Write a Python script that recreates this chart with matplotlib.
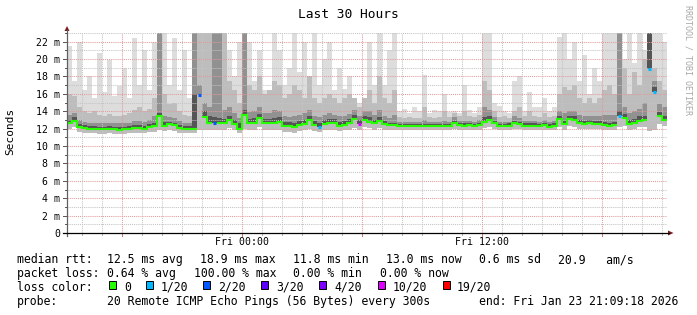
import numpy as np
import matplotlib
matplotlib.use("Agg")
import matplotlib.pyplot as plt
from matplotlib.patches import Rectangle, Polygon
from matplotlib.transforms import blended_transform_factory as blend

# ---------------- data (15-minute bins over the last 30 hours, values in ms) ----------------
median = [
    12.6, 12.9, 12.2, 12.1, 12.0, 12.0, 11.95, 11.95, 12.0, 11.95,
    11.9, 11.95, 12.0, 12.1, 12.1, 12.0, 12.2, 12.3, 13.4, 12.3,
    12.5, 12.4, 12.1, 12.0, 12.0, 12.0, 15.9, 13.3, 12.7, 12.6,
    12.6, 12.6, 13.0, 12.5, 12.0, 13.6, 12.6, 12.7, 13.2, 12.6,
    12.6, 12.7, 12.8, 12.3, 12.3, 12.2, 12.4, 12.5, 13.0, 12.4,
    12.2, 12.5, 12.6, 12.6, 12.3, 12.4, 12.6, 13.1, 12.5, 13.0,
    12.8, 12.6, 12.9, 12.5, 12.4, 12.4, 12.3, 12.3, 12.3, 12.3,
    12.25, 12.3, 12.3, 12.25, 12.3, 12.3, 12.3, 12.6, 12.4, 12.35,
    12.4, 12.3, 12.4, 12.8, 13.0, 12.6, 12.3, 12.3, 12.35, 12.6,
    12.5, 12.3, 12.3, 12.3, 12.25, 12.4, 12.2, 12.35, 13.1, 12.5,
    13.1, 13.0, 12.6, 12.5, 12.6, 12.5, 12.5, 12.4, 12.35, 12.4,
    13.5, 13.2, 12.5, 12.6, 12.9, 13.0, 18.9, 16.2, 13.4, 13.0,
]
ping_low = [
    12.0, 12.2, 11.6, 11.5, 11.45, 11.45, 11.4, 11.4, 11.45, 11.4,
    11.4, 11.4, 11.45, 11.5, 11.5, 11.5, 11.6, 11.6, 11.9, 11.7,
    11.8, 11.7, 11.5, 11.45, 11.45, 11.5, 11.9, 11.9, 11.9, 11.9,
    11.9, 11.9, 12.1, 11.8, 11.5, 12.0, 11.9, 11.9, 12.2, 11.8,
    11.8, 11.9, 11.9, 11.6, 11.6, 11.5, 11.7, 11.8, 12.0, 11.7,
    11.6, 11.8, 11.9, 11.9, 11.7, 11.8, 11.9, 12.1, 11.9, 12.2,
    12.1, 11.9, 12.1, 11.9, 11.9, 11.9, 11.85, 11.85, 11.85, 11.85,
    11.8, 11.85, 11.85, 11.8, 11.85, 11.85, 11.85, 12.0, 11.9, 11.9,
    11.9, 11.85, 11.9, 12.1, 12.2, 12.0, 11.85, 11.85, 11.9, 12.0,
    11.95, 11.85, 11.85, 11.85, 11.8, 11.9, 11.8, 11.85, 12.2, 11.9,
    12.3, 12.2, 12.0, 11.95, 12.0, 11.95, 11.95, 11.9, 11.85, 11.9,
    12.2, 12.3, 11.9, 12.0, 12.2, 12.2, 11.7, 11.8, 12.5, 12.3,
]
ping_top1 = [
    21.5, 17.5, 22.0, 16.5, 18.0, 15.5, 20.7, 16.2, 19.9, 15.8,
    16.9, 19.0, 15.5, 22.4, 17.0, 21.0, 16.4, 22.0, 23.0, 23.0,
    17.0, 22.4, 16.5, 21.0, 15.5, 23.0, 23.0, 23.0, 23.0, 23.0,
    23.0, 23.0, 21.0, 18.0, 22.0, 23.0, 22.0, 17.5, 21.0, 16.5,
    16.5, 23.0, 21.0, 17.0, 19.0, 23.0, 18.5, 22.0, 17.5, 23.0,
    17.0, 20.0, 22.0, 16.5, 19.0, 16.6, 18.0, 15.5, 15.0, 15.5,
    22.0, 17.0, 23.0, 17.0, 21.0, 23.0, 14.0, 14.3, 13.8, 14.5,
    14.0, 18.2, 13.8, 14.2, 14.0, 16.0, 13.9, 14.0, 13.8, 17.0,
    14.2, 13.8, 14.5, 23.0, 23.0, 15.0, 14.6, 14.0, 13.8, 17.5,
    18.0, 14.0, 16.2, 14.5, 14.5, 15.5, 14.0, 14.5, 22.5, 23.0,
    20.0, 22.0, 17.5, 20.5, 16.0, 19.0, 17.5, 23.0, 23.0, 23.0,
    23.0, 20.0, 23.0, 19.5, 23.0, 21.0, 23.0, 23.0, 23.0, 22.0,
]
ping_top2 = [
    16.0, 15.8, 14.5, 14.0, 13.8, 14.0, 13.6, 13.5, 13.7, 13.5,
    13.4, 13.6, 13.8, 14.2, 14.5, 14.0, 14.3, 15.5, 23.0, 16.0,
    14.8, 15.0, 14.0, 13.6, 13.4, 23.0, 23.0, 23.0, 23.0, 23.0,
    23.0, 23.0, 17.5, 16.5, 15.0, 23.0, 17.0, 16.5, 18.0, 16.0,
    16.5, 17.5, 17.0, 15.5, 16.0, 17.0, 16.5, 15.5, 18.0, 15.5,
    15.0, 15.5, 16.0, 15.5, 15.0, 15.5, 16.0, 15.5, 14.5, 15.5,
    16.5, 15.0, 18.0, 15.5, 15.0, 16.5, 13.3, 13.2, 13.3, 13.2,
    13.2, 14.5, 13.3, 13.2, 13.3, 14.0, 13.3, 13.8, 13.4, 14.0,
    13.4, 13.3, 13.6, 17.5, 16.5, 14.0, 13.3, 13.4, 13.2, 14.0,
    14.5, 13.5, 14.0, 13.4, 13.3, 13.8, 13.3, 13.5, 16.0, 16.8,
    16.5, 17.0, 15.5, 15.0, 15.5, 15.0, 15.5, 16.5, 17.0, 16.0,
    23.0, 19.0, 16.0, 18.5, 17.0, 20.0, 23.0, 19.0, 17.5, 16.5,
]
ping_top3 = [
    13.6, 13.8, 13.0, 12.8, 12.7, 12.7, 12.6, 12.6, 12.7, 12.6,
    12.6, 12.6, 12.7, 12.9, 12.9, 12.8, 13.0, 13.4, 23.0, 13.4,
    13.3, 13.2, 12.9, 12.7, 12.7, 23.0, 17.0, 15.0, 14.5, 23.0,
    23.0, 14.2, 14.5, 13.8, 13.2, 23.0, 13.9, 14.0, 14.5, 13.8,
    13.8, 14.2, 14.0, 13.4, 13.3, 13.4, 13.6, 13.8, 14.2, 13.5,
    13.3, 13.6, 13.8, 13.6, 13.4, 13.5, 13.7, 14.2, 13.5, 14.0,
    14.0, 13.6, 14.2, 13.4, 13.2, 13.6, 12.8, 12.8, 12.8, 12.8,
    12.8, 13.0, 12.8, 12.8, 12.8, 12.9, 12.8, 13.3, 12.9, 12.9,
    12.9, 12.8, 13.0, 14.5, 14.2, 13.3, 12.8, 12.8, 12.8, 13.4,
    13.2, 12.9, 12.9, 12.9, 12.8, 13.0, 12.8, 12.9, 14.0, 13.8,
    14.0, 14.0, 13.6, 13.4, 13.5, 13.4, 13.4, 13.6, 13.6, 13.6,
    23.0, 14.5, 13.8, 14.0, 14.3, 15.0, 23.0, 17.5, 14.8, 14.5,
]
ping_top4 = [
    13.0, 13.3, 12.5, 12.4, 12.3, 12.3, 12.2, 12.2, 12.3, 12.2,
    12.2, 12.2, 12.3, 12.4, 12.4, 12.3, 12.5, 12.7, 13.8, 12.8,
    12.8, 12.7, 12.4, 12.3, 12.3, 16.0, 15.9, 14.0, 13.4, 13.3,
    13.2, 13.1, 13.5, 13.0, 12.6, 14.2, 13.1, 13.2, 13.7, 13.1,
    13.1, 13.2, 13.3, 12.8, 12.8, 12.7, 12.9, 13.0, 13.5, 12.9,
    12.7, 13.0, 13.1, 13.1, 12.8, 12.9, 13.1, 13.6, 13.0, 13.5,
    13.3, 13.0, 13.3, 12.9, 12.7, 12.7, 12.55, 12.55, 12.55, 12.55,
    12.5, 12.55, 12.55, 12.5, 12.55, 12.55, 12.55, 12.9, 12.65, 12.6,
    12.65, 12.55, 12.7, 13.3, 13.5, 12.9, 12.55, 12.55, 12.6, 12.9,
    12.8, 12.6, 12.6, 12.6, 12.5, 12.7, 12.5, 12.6, 13.5, 12.9,
    13.5, 13.4, 13.0, 12.9, 13.0, 12.9, 12.9, 12.8, 12.7, 12.8,
    14.0, 13.7, 13.0, 13.1, 13.4, 13.5, 23.0, 16.8, 13.9, 13.5,
]
loss_bins = [26, 29, 50, 58, 110, 116, 117]
loss_counts = [2, 2, 1, 10, 1, 1, 1]

loss_level_counts = [0, 1, 2, 3, 4, 10, 19]
loss_level_labels = ["0", "1/20", "2/20", "3/20", "4/20", "10/20", "19/20"]
loss_level_colors = ["#26ff00", "#00b8ff", "#0059ff", "#5e00ff", "#7e00ff", "#dd00ff", "#ff0000"]

ytick_values = [0, 2, 4, 6, 8, 10, 12, 14, 16, 18, 20, 22]
ytick_labels = ["0", "2 m", "4 m", "6 m", "8 m", "10 m", "12 m", "14 m", "16 m", "18 m", "20 m", "22 m"]
xtick_bins = [35, 83]
xtick_labels = ["Fri 00:00", "Fri 12:00"]
major_vgrid_bins = [11, 35, 59, 83, 107]
minor_vgrid_bins = [3, 7, 15, 19, 23, 27, 31, 39, 43, 47, 51, 55, 63, 67, 71, 75, 79, 87, 91, 95, 99, 103, 111, 115, 119]

title = "Last 30 Hours"
ylabel = "Seconds"
watermark = "RRDTOOL / TOBI OETIKER"
stats_rtt = ["median rtt:", "12.5 ms avg", "18.9 ms max", "11.8 ms min", "13.0 ms now", "0.6 ms sd", "20.9   am/s"]
stats_loss = ["packet loss:", "0.64 % avg", "100.00 % max", "0.00 % min", "0.00 % now"]
probe_label = "probe:"
probe_text = "20 Remote ICMP Echo Pings (56 Bytes) every 300s"
end_text = "end: Fri Jan 23 21:09:18 2026"

# ---------------- layout ----------------
W, H = 697, 315
FONT = "DejaVu Sans Mono"
plt.rcParams["font.family"] = [FONT, "DejaVu Sans"]
fig = plt.figure(figsize=(W / 100, H / 100), dpi=100)
fig.patch.set_facecolor("white")

PL, PR, PT, PB = 67, 667, 33, 233
ax = fig.add_axes([PL / W, 1 - PB / H, (PR - PL) / W, (PB - PT) / H])
n = len(median)
ax.set_xlim(0, n)
ax.set_ylim(0, 23)
ax.set_axis_off()

# overlay in pixel coordinates for decorations
ov = fig.add_axes([0, 0, 1, 1], zorder=5)
ov.set_xlim(0, W)
ov.set_ylim(H, 0)
ov.set_axis_off()
ov.patch.set_alpha(0)

edges = np.arange(n + 1)
def ext(a):
    a = np.asarray(a, dtype=float)
    return np.append(a, a[-1])

med = np.asarray(median, float)
low = np.asarray(ping_low, float)

# smoke layers
ax.fill_between(edges, ext(low), ext(ping_top1), step="post", color="#dddddd", lw=0, zorder=1)
ax.fill_between(edges, ext(low), ext(ping_top2), step="post", color="#bdbdbd", lw=0, zorder=1.1)
ax.fill_between(edges, ext(med), ext(ping_top3), step="post", color="#919191", lw=0, zorder=1.2)
ax.fill_between(edges, ext(med), ext(ping_top4), step="post", color="#555555", lw=0, zorder=1.3)

# grid
for v in range(1, 24):
    if v % 2 == 0:
        ax.axhline(v, color="#e39a9a", lw=0.75, ls=(0, (1, 1)), zorder=2)
    else:
        ax.axhline(v, color="#c4c4c4", lw=0.75, ls=(0, (1, 1)), zorder=2)
for b in minor_vgrid_bins:
    ax.axvline(b, color="#c4c4c4", lw=0.75, ls=(0, (1, 1)), zorder=2)
for b in major_vgrid_bins:
    ax.axvline(b, color="#e39a9a", lw=0.75, ls=(0, (1, 1)), zorder=2)

# median line coloured by loss
def loss_color(c):
    col = loss_level_colors[0]
    for lc, cc in zip(loss_level_counts, loss_level_colors):
        if c >= lc:
            col = cc
    return col

green = med.copy()
for b in loss_bins:
    green[b] = np.nan
ax.step(edges, ext(green), where="post", color=loss_level_colors[0], lw=1.5, zorder=3,
        solid_joinstyle="miter", solid_capstyle="butt")
for b, c in zip(loss_bins, loss_counts):
    ax.plot([b + 0.2, b + 0.8], [med[b], med[b]], color=loss_color(c), lw=2.2, zorder=3.1,
            solid_capstyle="butt")

# axes lines and arrows
ov.plot([PL, PL], [PB + 3, 30], color="#606060", lw=0.9)
ov.plot([63, 669], [PB, PB], color="#000000", lw=0.9)
ov.add_patch(Polygon([[64.5, 31], [69.5, 31], [67, 26]], closed=True, color="#7a1c1c", lw=0))
ov.add_patch(Polygon([[668, 230.5], [668, 235.5], [673.5, 233]], closed=True, color="#7a1c1c", lw=0))

# y ticks
yx = blend(ov.transData, ax.transData)
for v in range(0, 24):
    L = 4 if v % 2 == 0 else 2
    ax.plot([PL - L, PL], [v, v], color="#555555", lw=0.7, transform=yx, clip_on=False, zorder=4)
for v, lab in zip(ytick_values, ytick_labels):
    ax.text(60.5, v, lab, transform=yx, ha="right", va="center_baseline", fontsize=7.1,
            family=FONT, color="#000000")

# x ticks
xy = blend(ax.transData, ov.transData)
for b in minor_vgrid_bins:
    ax.plot([b, b], [PB, PB + 2], color="#b0b0b0", lw=0.7, transform=xy, clip_on=False, zorder=4)
for b in major_vgrid_bins:
    ax.plot([b, b], [PB, PB + 3], color="#d07070", lw=0.7, transform=xy, clip_on=False, zorder=4)
for b, lab in zip(xtick_bins, xtick_labels):
    ax.text(b, 245, lab, transform=xy, ha="center", va="baseline", fontsize=7.1, family=FONT)

# title, labels, watermark
ov.text(348, 18.5, title, ha="center", va="baseline", fontsize=9.3, family=FONT)
ov.text(10.5, 131.5, ylabel, ha="center", va="center", rotation=90, fontsize=8.0, family=FONT)
ov.text(688, 60, watermark, ha="center", va="center", rotation=270, fontsize=6.0,
        family=FONT, color="#a8a8a8")

# legend / statistics
LF = 8.3
rtt_x = [16.7, 107.3, 200, 293.3, 386, 479.3, 558.3]
for x, s in zip(rtt_x, stats_rtt):
    ov.text(x, 263.3, s, ha="left", va="baseline", fontsize=LF, family=FONT)
loss_x = [16.7, 107.3, 193.5, 293.3, 380]
for x, s in zip(loss_x, stats_loss):
    ov.text(x, 277.3, s, ha="left", va="baseline", fontsize=LF, family=FONT)
ov.text(16.7, 291, "loss color:", ha="left", va="baseline", fontsize=LF, family=FONT)
box_x = [108.7, 145.7, 203.3, 260.7, 319.3, 377.7, 442.7]
lab_x = [124, 160.7, 218.3, 276, 334, 392.3, 456.7]
for bx, lx, lab, col in zip(box_x, lab_x, loss_level_labels, loss_level_colors):
    ov.add_patch(Rectangle((bx, 280.5), 7, 8, facecolor=col, edgecolor="black", lw=0.7))
    ov.text(lx, 291, lab, ha="left", va="baseline", fontsize=LF, family=FONT)
ov.text(16.7, 305, probe_label, ha="left", va="baseline", fontsize=LF, family=FONT)
ov.text(107.3, 305, probe_text, ha="left", va="baseline", fontsize=LF, family=FONT)
ov.text(478.7, 305, end_text, ha="left", va="baseline", fontsize=LF, family=FONT)

fig.savefig("out.png", dpi=100, facecolor="white")
